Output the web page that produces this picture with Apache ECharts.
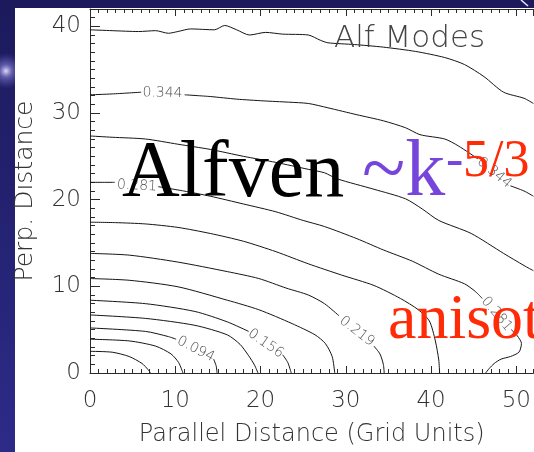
<!DOCTYPE html>
<html><head><meta charset="utf-8">
<script src="https://cdn.jsdelivr.net/npm/echarts@6/dist/echarts.min.js"></script>
<style>html,body{margin:0;padding:0;background:#1e1c62;overflow:hidden}#c{width:534px;height:452px}</style>
</head><body><div id="c"></div>
<script>
// ---- axis ranges / ticks ----
const xRange = [0, 52];
const yRange = [0, 42];
const xTickLabels = [0, 10, 20, 30, 40, 50];
const yTickLabels = [0, 10, 20, 30, 40];

// ---- contour levels (each contour: list of segments of [parallel, perp] points) ----
const c0031 = [[[0,2.5],[2.6,2.4],[4.6,1.9],[6.1,1.1],[6.8,0.4],[7.1,0]]];
const c0063 = [[[0,3.9],[4.6,3.7],[7.7,3.1],[9.5,2.2],[10.4,1.2],[10.9,0]]];
const c0094 = [[[0,5.2],[6.5,4.8],[9.2,4.2],[10.1,3.9]],[[14.5,1.6],[14.8,0.8],[14.9,0]]];
const c0125 = [[[0,6.7],[6.5,6.3],[12.3,5.5],[16.1,4.4],[17.6,3.3],[18.6,2.0],[19.3,0.9],[19.7,0]]];
const c0156 = [[[0,8.4],[6.5,8.0],[12.3,7.1],[16.1,5.9],[18.6,4.8]],[[22.6,2.1],[23.2,1.2],[23.6,0]]];
const c0188 = [[[0,10.9],[4.6,10.7],[10.3,9.95],[16.1,8.4],[19.8,7.3],[23.7,5.7],[26.4,4.4],[27.6,3.4],[28.4,1.9],[28.7,0]]];
const c0219 = [[[0,13.8],[4.6,13.6],[10.3,12.8],[16.1,11.7],[19.8,10.9],[23.0,9.8],[25.6,9.0],[27.5,8.0],[29.2,6.6]],[[33.3,3.1],[34.0,2.2],[34.4,1.0],[34.5,0]]];
const c0250 = [[[0,17.4],[3.0,17.35],[6.5,17.2],[10.3,16.8],[14.1,16.1],[18.0,15.2],[21.8,14.0],[25.6,12.6],[29.5,11.3],[33.3,10.1],[36.4,8.6],[38.5,7.3],[39.8,6.0],[40.5,3.7],[40.9,1.5],[41.0,0]]];
const c0281 = [[[0,22.0],[2.9,22.0]],[[8.0,21.5],[11.0,21.0],[14.1,20.4],[18.0,19.5],[21.8,18.6],[25.0,17.6],[27.5,16.9],[31.3,15.5],[34.4,14.2],[37.8,12.9],[40.9,11.4],[43.9,10.3],[45.2,9.4],[46.0,8.6]],[[49.4,5.0],[50.1,4.3],[50.6,3.4],[50.3,2.4],[49.3,1.9],[48.2,1.6],[47.4,1.1],[46.8,0.5],[46.4,0]]];
const c0313 = [[[0,27.35],[2.6,27.2],[6.5,27.0],[10.3,26.4],[14.1,25.8],[18.0,25.0],[21.8,24.3],[25.6,23.5],[27.5,23.1],[29.0,22.4],[33.3,21.2],[37.0,20.1],[39.0,18.9],[40.9,17.6],[44.7,16.1],[48.5,13.8],[50.9,12.4],[52,11.8]]];
const c0344 = [[[0,32.1],[2.6,32.2],[6.0,32.4]],[[11.1,32.1],[14.1,31.9],[17.2,31.6],[20.3,31.4],[23.3,31.25],[25.6,31.1],[27.9,30.6],[31.3,29.8],[34.4,29.1],[37.0,28.3],[38.7,27.5],[41.6,27.0],[43.2,26.2],[45.5,24.7]],[[49.3,21.6],[50.9,21.0],[52,20.4]]];
const c0375 = [[[0,39.6],[2.6,39.5],[5.7,39.4],[7.7,39.5],[9.2,39.2],[10.3,39.4],[11.8,39.7],[14.6,39.6],[15.8,40.1],[17.2,39.6],[18.7,39.0],[20.6,39.3],[22.6,39.1],[25.6,39.0],[27.0,38.4],[27.9,38.1],[31.0,37.9],[34.4,37.6],[38.2,37.1],[41.6,36.4],[43.9,35.6],[46.2,34.2],[48.5,32.4],[50.9,31.7],[52,31.1]]];
const contours = [c0031, c0063, c0094, c0125, c0156, c0188, c0219, c0250, c0281, c0313, c0344, c0375];

// ---- contour labels ----
const labelText = ['0.094', '0.156', '0.219', '0.281', '0.281', '0.344', '0.344'];
const labelAt   = [[12.4,2.75], [20.6,3.4], [31.3,4.8], [5.5,21.6], [47.7,6.8], [8.5,32.3], [47.4,23.1]];
const labelRot  = [-27, -35, -38, -3, -50, -1, -40];

const chart = echarts.init(document.getElementById('c'), null, {renderer: 'canvas', width: 534, height: 452});

const axisCol = '#2a2a2a';
const tickFont = {fontFamily: 'DejaVu Sans', fontWeight: 200, fontSize: 23, color: '#333'};

function mkX(pos, major, labels) {
  return {
    type: 'value', position: pos, min: xRange[0], max: xRange[1], interval: major ? 10 : 1,
    axisLine: {show: major, lineStyle: {color: axisCol, width: 1}},
    axisTick: {show: true, inside: true, length: major ? 7 : 4, lineStyle: {color: axisCol, width: 1}},
    axisLabel: labels ? Object.assign({show: true, margin: 17, showMaxLabel: false,
      formatter: v => xTickLabels.indexOf(v) >= 0 ? String(v) : ''}, tickFont) : {show: false},
    splitLine: {show: false},
    name: labels ? 'Parallel Distance (Grid Units)' : '',
    nameLocation: 'middle', nameGap: 50,
    nameTextStyle: {fontFamily: 'DejaVu Sans', fontWeight: 200, fontSize: 24, color: '#333'}
  };
}
function mkY(major, labels) {
  return {
    type: 'value', position: 'left', min: yRange[0], max: yRange[1], interval: major ? 10 : 1,
    axisLine: {show: major, lineStyle: {color: axisCol, width: 1}},
    axisTick: {show: true, inside: true, length: major ? 10 : 5, lineStyle: {color: axisCol, width: 1}},
    axisLabel: labels ? Object.assign({show: true, margin: 9, showMaxLabel: false,
      formatter: v => yTickLabels.indexOf(v) >= 0 ? String(v) : ''}, tickFont) : {show: false},
    splitLine: {show: false},
    name: labels ? 'Perp. Distance' : '',
    nameLocation: 'middle', nameGap: 52,
    nameTextStyle: {fontFamily: 'DejaVu Sans', fontWeight: 200, fontSize: 25, color: '#333'}
  };
}

const series = [];
contours.forEach(segs => segs.forEach(seg => series.push({
  type: 'line', data: seg, xAxisIndex: 0, yAxisIndex: 0,
  showSymbol: false, symbol: 'none', smooth: 0.25, silent: true, z: 3,
  lineStyle: {color: '#151515', width: 1}
})));
series.push({
  type: 'scatter', xAxisIndex: 0, yAxisIndex: 0, symbolSize: 1, silent: true, z: 4,
  itemStyle: {color: 'rgba(0,0,0,0)'},
  data: labelAt.map((p, i) => ({value: p, label: {rotate: labelRot[i], formatter: labelText[i]}})),
  label: {show: true, position: 'inside', fontFamily: 'DejaVu Sans', fontWeight: 200, fontSize: 14, color: '#1a1a1a'}
});

const shadow = {shadowColor: 'rgba(0,0,0,0.55)', shadowBlur: 4, shadowOffsetX: 3, shadowOffsetY: 3};

chart.setOption({
  animation: false,
  backgroundColor: new echarts.graphic.LinearGradient(0, 0, 0, 1, [
    {offset: 0, color: '#1c1a5c'}, {offset: 1, color: '#2d2b88'}]),
  grid: {left: 90, top: 9, width: 453.4, height: 366, containLabel: false},
  title: {text: 'Alf Modes', left: 334, top: 23, padding: 0,
    textStyle: {fontFamily: 'DejaVu Sans', fontSize: 31, fontWeight: 200, color: '#444'}},
  xAxis: [mkX('bottom', true, true), mkX('bottom', false, false), mkX('top', true, false), mkX('top', false, false)],
  yAxis: [mkY(true, true), mkY(false, false)],
  series: series,
  graphic: [
    {type: 'circle', z: -20, silent: true, shape: {cx: 6, cy: 71, r: 18},
      style: {fill: new echarts.graphic.RadialGradient(0.5, 0.5, 0.5, [
        {offset: 0, color: 'rgba(235,230,255,0.95)'}, {offset: 0.35, color: 'rgba(180,170,255,0.45)'},
        {offset: 1, color: 'rgba(120,110,220,0)'}])}},
    {type: 'rect', z: -10, silent: true, shape: {x: 15, y: 8, width: 519, height: 444}, style: {fill: '#ffffff'}},
    {type: 'line', z: -10, silent: true, shape: {x1: 521, y1: 0, x2: 528, y2: 6}, style: {stroke: '#e8e8ff', lineWidth: 1.5}},
    {type: 'text', z: 100, x: 122, y: 175, style: {text: 'Alfven', font: '80px "Liberation Serif"', fill: '#000', verticalAlign: 'middle'}},
    {type: 'text', z: 100, x: 362, y: 174, style: Object.assign({text: '~k', font: '80px "Liberation Serif"', fill: '#7645dc', verticalAlign: 'middle'}, shadow)},
    {type: 'text', z: 100, x: 446, y: 162.5, style: Object.assign({text: '-', font: '52px "Liberation Serif"', fill: '#7645dc', verticalAlign: 'middle'}, shadow)},
    {type: 'text', z: 100, x: 463, y: 162.5, style: Object.assign({text: '5/3', font: '52px "Liberation Serif"', fill: '#ff2a06', verticalAlign: 'middle'}, shadow)},
    {type: 'text', z: 100, x: 388, y: 321, style: {text: 'anisot', font: '64px "Liberation Serif"', fill: '#ff2a06', verticalAlign: 'middle'}}
  ]
});
</script>
</body></html>
